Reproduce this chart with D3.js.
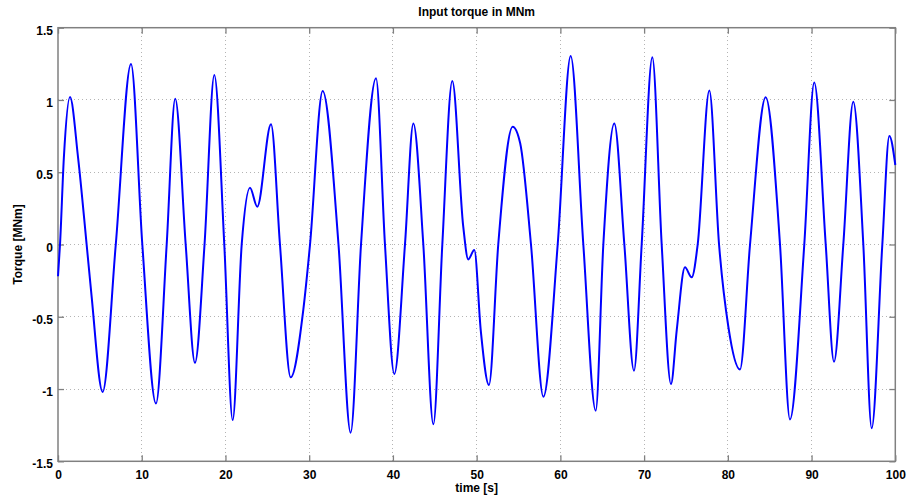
<!DOCTYPE html>
<html>
<head>
<meta charset="utf-8">
<script src="https://cdn.jsdelivr.net/npm/d3@7"></script>
<style>
  html, body { margin: 0; padding: 0; background: #fff; }
  svg text { font-family: "Liberation Sans", Arial, sans-serif; font-weight: bold; fill: #000; }
</style>
</head>
<body>
<svg id="chart" width="909" height="497"></svg>
<script>
// Sampled input torque signal (time in seconds, torque in MNm)
const timeS = [
  0, 0.24, 0.7, 1.43, 2.4, 3.42, 4.0, 5.33, 6.9, 8.72,
  10.07, 11.7, 12.98, 14.0, 15.25, 16.36, 17.5, 18.67, 19.86, 20.86,
  21.94, 22.93, 23.8, 25.44, 26.51, 27.79, 29.3, 30.1, 31.61, 33.5,
  34.95, 36.19, 37.98, 39.05, 40.17, 41.44, 42.44, 43.63, 44.83, 45.9,
  47.09, 48.4, 49.0, 49.72, 50.5, 51.47, 52.58, 54.3, 55.2, 56.49,
  57.97, 59.68, 61.23, 62.74, 64.22, 65.13, 66.44, 67.64, 68.79, 69.71,
  70.98, 72.1, 73.21, 73.9, 74.88, 75.68, 76.4, 77.79, 78.95, 80.06,
  81.45, 82.65, 84.52, 86.23, 87.42, 89.13, 90.32, 91.69, 92.68, 93.79,
  94.98, 96.18, 97.18, 98.45, 99.29, 100
];
const torqueMNm = [
  -0.22, 0, 0.6, 1.02, 0.6, 0, -0.35, -1.02, 0, 1.249,
  0, -1.10, 0, 1.009, 0, -0.818, 0, 1.173, 0, -1.215,
  0, 0.393, 0.262, 0.832, 0, -0.919, -0.45, 0, 1.062, 0,
  -1.302, 0, 1.150, 0, -0.896, 0, 0.838, 0, -1.244, 0,
  1.131, 0.123, -0.103, -0.038, -0.6, -0.972, 0, 0.815, 0.70, 0,
  -1.053, 0, 1.304, 0, -1.150, 0, 0.838, 0, -0.873, 0,
  1.295, 0, -0.965, -0.59, -0.158, -0.227, 0, 1.065, 0, -0.569,
  -0.864, 0, 1.019, 0, -1.21, 0, 1.12, 0, -0.811, 0,
  0.988, 0, -1.272, 0, 0.751, 0.55
];
const xTicks = [0, 10, 20, 30, 40, 50, 60, 70, 80, 90, 100];
const yTicks = [-1.5, -1, -0.5, 0, 0.5, 1, 1.5];

const titleText = "Input torque in MNm";
const xLabelText = "time [s]";
const yLabelText = "Torque [MNm]";

const W = 909, H = 497;
const margin = { top: 27.7, right: 13.7, bottom: 35.7, left: 58 };
const iw = W - margin.left - margin.right;
const ih = H - margin.top - margin.bottom;

const svg = d3.select("#chart");
const g = svg.append("g").attr("transform", `translate(${margin.left},${margin.top})`);

const x = d3.scaleLinear().domain([0, 100]).range([0, iw]);
const y = d3.scaleLinear().domain([-1.5, 1.5]).range([ih, 0]);

// Dotted grid
const grid = g.append("g").attr("class", "grid");
grid.selectAll("line.gx").data(xTicks.slice(1, -1)).join("line")
  .attr("x1", d => x(d)).attr("x2", d => x(d))
  .attr("y1", 0).attr("y2", ih)
  .attr("stroke", "#b4b4b4").attr("stroke-width", 1)
  .attr("stroke-dasharray", "1,3").attr("shape-rendering", "crispEdges");
grid.selectAll("line.gy").data(yTicks.slice(1, -1)).join("line")
  .attr("x1", 0).attr("x2", iw)
  .attr("y1", d => y(d)).attr("y2", d => y(d))
  .attr("stroke", "#b4b4b4").attr("stroke-width", 1)
  .attr("stroke-dasharray", "1,3").attr("shape-rendering", "crispEdges");

// Axes with inward ticks on all four sides
const axisColor = "#808080";
function styleAxis(sel) {
  sel.select(".domain").remove();
  sel.selectAll(".tick line").attr("stroke", axisColor).attr("stroke-width", 1.3);
  sel.selectAll(".tick text").attr("font-size", 12).attr("font-weight", "bold")
    .attr("font-family", "Liberation Sans, Arial, sans-serif").attr("fill", "#000");
}
const xAxis = g.append("g").attr("transform", `translate(0,${ih})`)
  .call(d3.axisBottom(x).tickValues(xTicks).tickFormat(d3.format("d")).tickSizeInner(-6).tickSizeOuter(0).tickPadding(9));
styleAxis(xAxis);
const xAxisTop = g.append("g")
  .call(d3.axisTop(x).tickValues(xTicks).tickFormat("").tickSizeInner(-6).tickSizeOuter(0));
styleAxis(xAxisTop);
const yAxis = g.append("g")
  .call(d3.axisLeft(y).tickValues(yTicks).tickFormat(d => String(d)).tickSizeInner(-6).tickSizeOuter(0).tickPadding(7));
styleAxis(yAxis);
yAxis.selectAll(".tick text").attr("dy", "0.55em").attr("dx", "2");
const yAxisRight = g.append("g").attr("transform", `translate(${iw},0)`)
  .call(d3.axisRight(y).tickValues(yTicks).tickFormat("").tickSizeInner(-6).tickSizeOuter(0));
styleAxis(yAxisRight);

// Frame
g.append("rect").attr("x", 0).attr("y", 0).attr("width", iw).attr("height", ih)
  .attr("fill", "none").attr("stroke", axisColor).attr("stroke-width", 1.5);

// Torque line
const pts = timeS.map((t, i) => [t, torqueMNm[i]]);
const line = d3.line().x(d => x(d[0])).y(d => y(d[1])).curve(d3.curveMonotoneX);
g.append("path").datum(pts).attr("d", line)
  .attr("fill", "none").attr("stroke", "#0000ff").attr("stroke-width", 2)
  .attr("stroke-linejoin", "round");

// Labels
svg.append("text").attr("x", margin.left + iw / 2).attr("y", 16)
  .attr("text-anchor", "middle").attr("font-size", 12).text(titleText);
svg.append("text").attr("x", margin.left + iw / 2).attr("y", 492)
  .attr("text-anchor", "middle").attr("font-size", 12).text(xLabelText);
svg.append("text").attr("transform", `translate(22,${margin.top + ih / 2}) rotate(-90)`)
  .attr("text-anchor", "middle").attr("font-size", 12).text(yLabelText);
</script>
</body>
</html>
